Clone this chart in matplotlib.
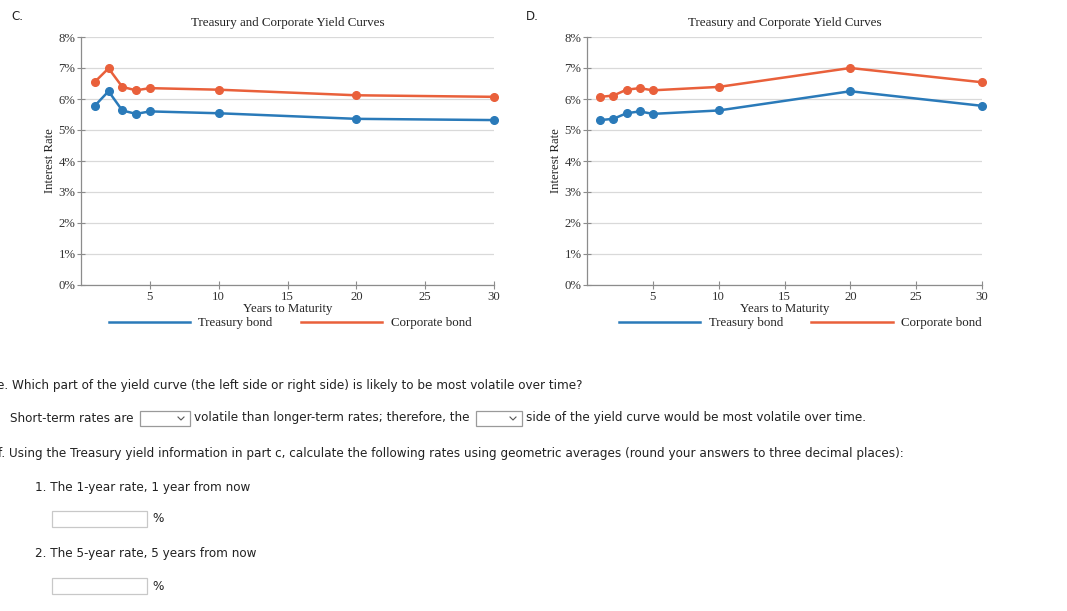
#!/usr/bin/env python3

import matplotlib
matplotlib.use('Agg')
import matplotlib.pyplot as plt
from matplotlib.patches import Rectangle
from matplotlib.lines import Line2D
from matplotlib.ticker import FuncFormatter

# data
years = [1, 2, 3, 4, 5, 10, 20, 30]

c_treasury = [5.78, 6.25, 5.63, 5.52, 5.60, 5.54, 5.36, 5.32]
c_corporate = [6.55, 6.99, 6.39, 6.28, 6.35, 6.30, 6.12, 6.07]

d_treasury = [5.32, 5.36, 5.54, 5.60, 5.52, 5.63, 6.25, 5.78]
d_corporate = [6.07, 6.11, 6.30, 6.35, 6.28, 6.39, 7.00, 6.54]

yticks = [0, 1, 2, 3, 4, 5, 6, 7, 8]
xticks = [5, 10, 15, 20, 25, 30]

blue = '#2a7ab9'
orange = '#e9603b'
serif = 'Liberation Serif'
sans = 'DejaVu Sans'

W, H = 1067, 611
fig = plt.figure(figsize=(W / 100, H / 100), dpi=100)


def px(x, y):
    # pixel (from top-left) -> figure fraction
    return x / W, 1 - y / H


def panel(left, right, tre, cor, letter, lx, leg_x):
    x0, y0 = px(left, 285)
    x1, y1 = px(right, 37)
    ax = fig.add_axes([x0, y0, x1 - x0, y1 - y0])
    ax.plot(years, tre, '-o', color=blue, lw=1.8, ms=5.5, label='Treasury bond', clip_on=False)
    ax.plot(years, cor, '-o', color=orange, lw=1.8, ms=5.5, label='Corporate bond', clip_on=False)
    ax.set_xlim(0, 30)
    ax.set_ylim(0, 8)
    ax.set_yticks(yticks)
    ax.set_xticks(xticks)
    ax.yaxis.set_major_formatter(FuncFormatter(lambda v, p: '%d%%' % v))
    ax.grid(axis='y', color='#d9d9d9', lw=0.9)
    ax.set_axisbelow(True)
    for s in ['top', 'right']:
        ax.spines[s].set_visible(False)
    for s in ['left', 'bottom']:
        ax.spines[s].set_color('#8c8c8c')
        ax.spines[s].set_linewidth(0.9)
    ax.tick_params(direction='inout', length=6, width=0.8, color='#8c8c8c',
                   labelsize=9.2, labelcolor='#333333', pad=1)
    for lab in ax.get_xticklabels() + ax.get_yticklabels():
        lab.set_fontfamily(serif)
    ax.set_title('Treasury and Corporate Yield Curves', fontfamily=serif,
                 fontsize=9.4, color='#222222', pad=8)
    ax.set_xlabel('Years to Maturity', fontfamily=serif, fontsize=9.2,
                  color='#222222', labelpad=0)
    ax.set_ylabel('Interest Rate', fontfamily=serif, fontsize=9.2,
                  color='#222222', labelpad=2)
    ax.legend(loc='center', bbox_to_anchor=(leg_x, -0.155), ncol=2, frameon=False,
              handlelength=6.3, handletextpad=0.65, columnspacing=2.2,
              prop={'family': serif, 'size': 9.3}, labelcolor='#222222')
    for h in ax.get_legend().legend_handles:
        h.set_marker('')
    fig.text(*px(lx, 17), letter, fontfamily=sans, fontsize=8.5, va='center',
             color='#222222')
    return ax


panel(81, 494, c_treasury, c_corporate, 'C.', 11, 0.506)
panel(587, 982, d_treasury, d_corporate, 'D.', 526, 0.54)

# ---- question text below the charts ----
fs = 8.65
tc = '#222222'


def txt(x, y, s):
    fig.text(*px(x, y), s, fontfamily=sans, fontsize=fs, va='center', color=tc)


def box(x0, y0, x1, y1, ec='#c8c8c8'):
    a, b = px(x0, y1)
    c, d = px(x1, y0)
    fig.add_artist(Rectangle((a, b), c - a, d - b, transform=fig.transFigure,
                             facecolor='white', edgecolor=ec, lw=0.9))


def dropdown(x0, x1, y0, y1):
    box(x0, y0, x1, y1, ec='#9a9a9a')
    cx, cy = x1 - 9, (y0 + y1) / 2
    xs = [cx - 3, cx, cx + 3]
    ys = [cy - 1.5, cy + 1.5, cy - 1.5]
    pts = [px(a, b) for a, b in zip(xs, ys)]
    fig.add_artist(Line2D([p[0] for p in pts], [p[1] for p in pts],
                          transform=fig.transFigure, color='#555555', lw=0.8))


txt(-3, 385, 'e. Which part of the yield curve (the left side or right side) is likely to be most volatile over time?')
txt(10, 418, 'Short-term rates are')
dropdown(140, 190, 411, 426)
txt(194, 418, 'volatile than longer-term rates; therefore, the')
dropdown(476, 522, 411, 426)
txt(526, 418, 'side of the yield curve would be most volatile over time.')
txt(-2, 453, 'f. Using the Treasury yield information in part c, calculate the following rates using geometric averages (round your answers to three decimal places):')
txt(35, 487, '1. The 1-year rate, 1 year from now')
box(52, 511, 147, 527)
txt(152, 519, '%')
txt(35, 553, '2. The 5-year rate, 5 years from now')
box(52, 578, 147, 594)
txt(152, 586, '%')

fig.savefig('out.png', dpi=100)
